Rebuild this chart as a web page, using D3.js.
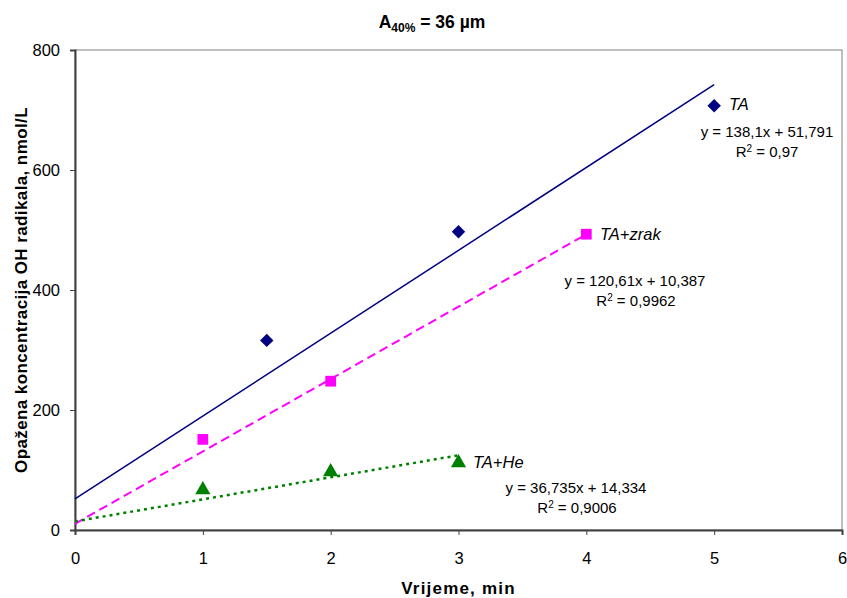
<!DOCTYPE html>
<html>
<head>
<meta charset="utf-8">
<script src="https://cdn.jsdelivr.net/npm/d3@7"></script>
<style>
  html, body { margin: 0; padding: 0; background: #fff; }
  svg { display: block; font-family: Arial, "Liberation Sans", sans-serif; }
</style>
</head>
<body>
<svg id="chart" width="847" height="598"></svg>
<script>
// ---- data ----
const xTicks = [0, 1, 2, 3, 4, 5, 6];
const yTicks = [0, 200, 400, 600, 800];

const taX = [1.5, 3, 5];
const taY = [316, 497, 707];
const taFit = [138.1, 51.791];       // slope, intercept
const taLabels = ["TA", "y = 138,1x + 51,791", "0,97"];

const zrakX = [1, 2, 4];
const zrakY = [151, 248, 493];
const zrakFit = [120.61, 10.387];
const zrakLabels = ["TA+zrak", "y = 120,61x + 10,387", "0,9962"];

const heX = [1, 2, 3];
const heY = [67, 97, 112];
const heFit = [36.735, 14.334];
const heLabels = ["TA+He", "y = 36,735x + 14,334", "0,9006"];

const titleMain = "A";
const titleSub = "40%";
const titleRest = " = 36 µm";
const xTitle = "Vrijeme, min";
const yTitle = "Opažena koncentracija OH radikala, nmol/L";

// ---- layout ----
const svg = d3.select("#chart");
const L = 75, R = 842, T = 50, B = 530;
const x = d3.scaleLinear().domain([0, 6]).range([L, R]);
const y = d3.scaleLinear().domain([0, 800]).range([B, T]);

// plot border (top/right)
svg.append("rect").attr("x", L).attr("y", T).attr("width", R - L).attr("height", B - T)
  .attr("fill", "none").attr("stroke", "#808080").attr("stroke-width", 1);

// axes
const xAxis = svg.append("g").attr("transform", `translate(0,${B})`)
  .call(d3.axisBottom(x).tickValues(xTicks).tickSize(5).tickPadding(17).tickFormat(d3.format("d")));
const yAxis = svg.append("g").attr("transform", `translate(${L},0)`)
  .call(d3.axisLeft(y).tickValues(yTicks).tickSize(5).tickPadding(10).tickFormat(d3.format("d")));
[xAxis, yAxis].forEach(g => {
  g.select(".domain").attr("stroke", "#404040").attr("stroke-width", 2);
  g.selectAll(".tick line").attr("stroke", "#404040").attr("stroke-width", 1);
  g.selectAll(".tick text").attr("fill", "#000").style("font-size", "16.5px")
    .style("font-family", "Arial, 'Liberation Sans', sans-serif");
});

// series
const series = [
  { xs: taX, ys: taY, fit: taFit, labels: taLabels, color: "#000080", dash: null, width: 1.5, sym: d3.symbolSquare, rot: 45, size: 90,
    name: [729, 110], eq: [767, 137], r2: [767, 157] },
  { xs: zrakX, ys: zrakY, fit: zrakFit, labels: zrakLabels, color: "#FF00FF", dash: "9,5", width: 2, sym: d3.symbolSquare, rot: 0, size: 115,
    name: [600, 240], eq: [635, 286], r2: [636, 306] },
  { xs: heX, ys: heY, fit: heFit, labels: heLabels, color: "#008000", dash: "3,4", width: 2.5, sym: d3.symbolTriangle, rot: 0, size: 100,
    name: [473, 468], eq: [576, 493], r2: [577, 513] }
];

series.forEach(s => {
  const x0 = 0, x1 = d3.max(s.xs);
  const line = svg.append("line")
    .attr("x1", x(x0)).attr("y1", y(s.fit[0] * x0 + s.fit[1]))
    .attr("x2", x(x1)).attr("y2", y(s.fit[0] * x1 + s.fit[1]))
    .attr("stroke", s.color).attr("stroke-width", s.width);
  if (s.dash) line.attr("stroke-dasharray", s.dash);

  svg.append("g").selectAll("path").data(s.xs.map((v, i) => [v, s.ys[i]])).join("path")
    .attr("transform", d => `translate(${x(d[0])},${y(d[1])}) rotate(${s.rot})`)
    .attr("d", d3.symbol().type(s.sym).size(s.size))
    .attr("fill", s.color);

  svg.append("text").attr("x", s.name[0]).attr("y", s.name[1])
    .style("font-size", "16.5px").style("font-style", "italic").text(s.labels[0]);
  svg.append("text").attr("x", s.eq[0]).attr("y", s.eq[1]).attr("text-anchor", "middle")
    .style("font-size", "15px").text(s.labels[1]);
  const r = svg.append("text").attr("x", s.r2[0]).attr("y", s.r2[1]).attr("text-anchor", "middle")
    .style("font-size", "15px");
  r.append("tspan").text("R");
  r.append("tspan").attr("dy", -5).style("font-size", "10px").text("2");
  r.append("tspan").attr("dy", 5).text(" = " + s.labels[2]);
});

// title
const t = svg.append("text").attr("x", 432).attr("y", 28).attr("text-anchor", "middle")
  .style("font-size", "17.5px").style("font-weight", "bold");
t.append("tspan").text(titleMain);
t.append("tspan").attr("dy", 4).style("font-size", "12px").text(titleSub);
t.append("tspan").attr("dy", -4).text(titleRest);

// axis titles
svg.append("text").attr("x", (L + R) / 2).attr("y", 594).attr("text-anchor", "middle")
  .style("font-size", "17px").style("font-weight", "bold").style("letter-spacing", "1.2px").text(xTitle);
svg.append("text").attr("transform", `translate(27,290) rotate(-90)`).attr("text-anchor", "middle")
  .style("font-size", "17px").style("font-weight", "bold").style("letter-spacing", "0.4px").text(yTitle);
</script>
</body>
</html>
